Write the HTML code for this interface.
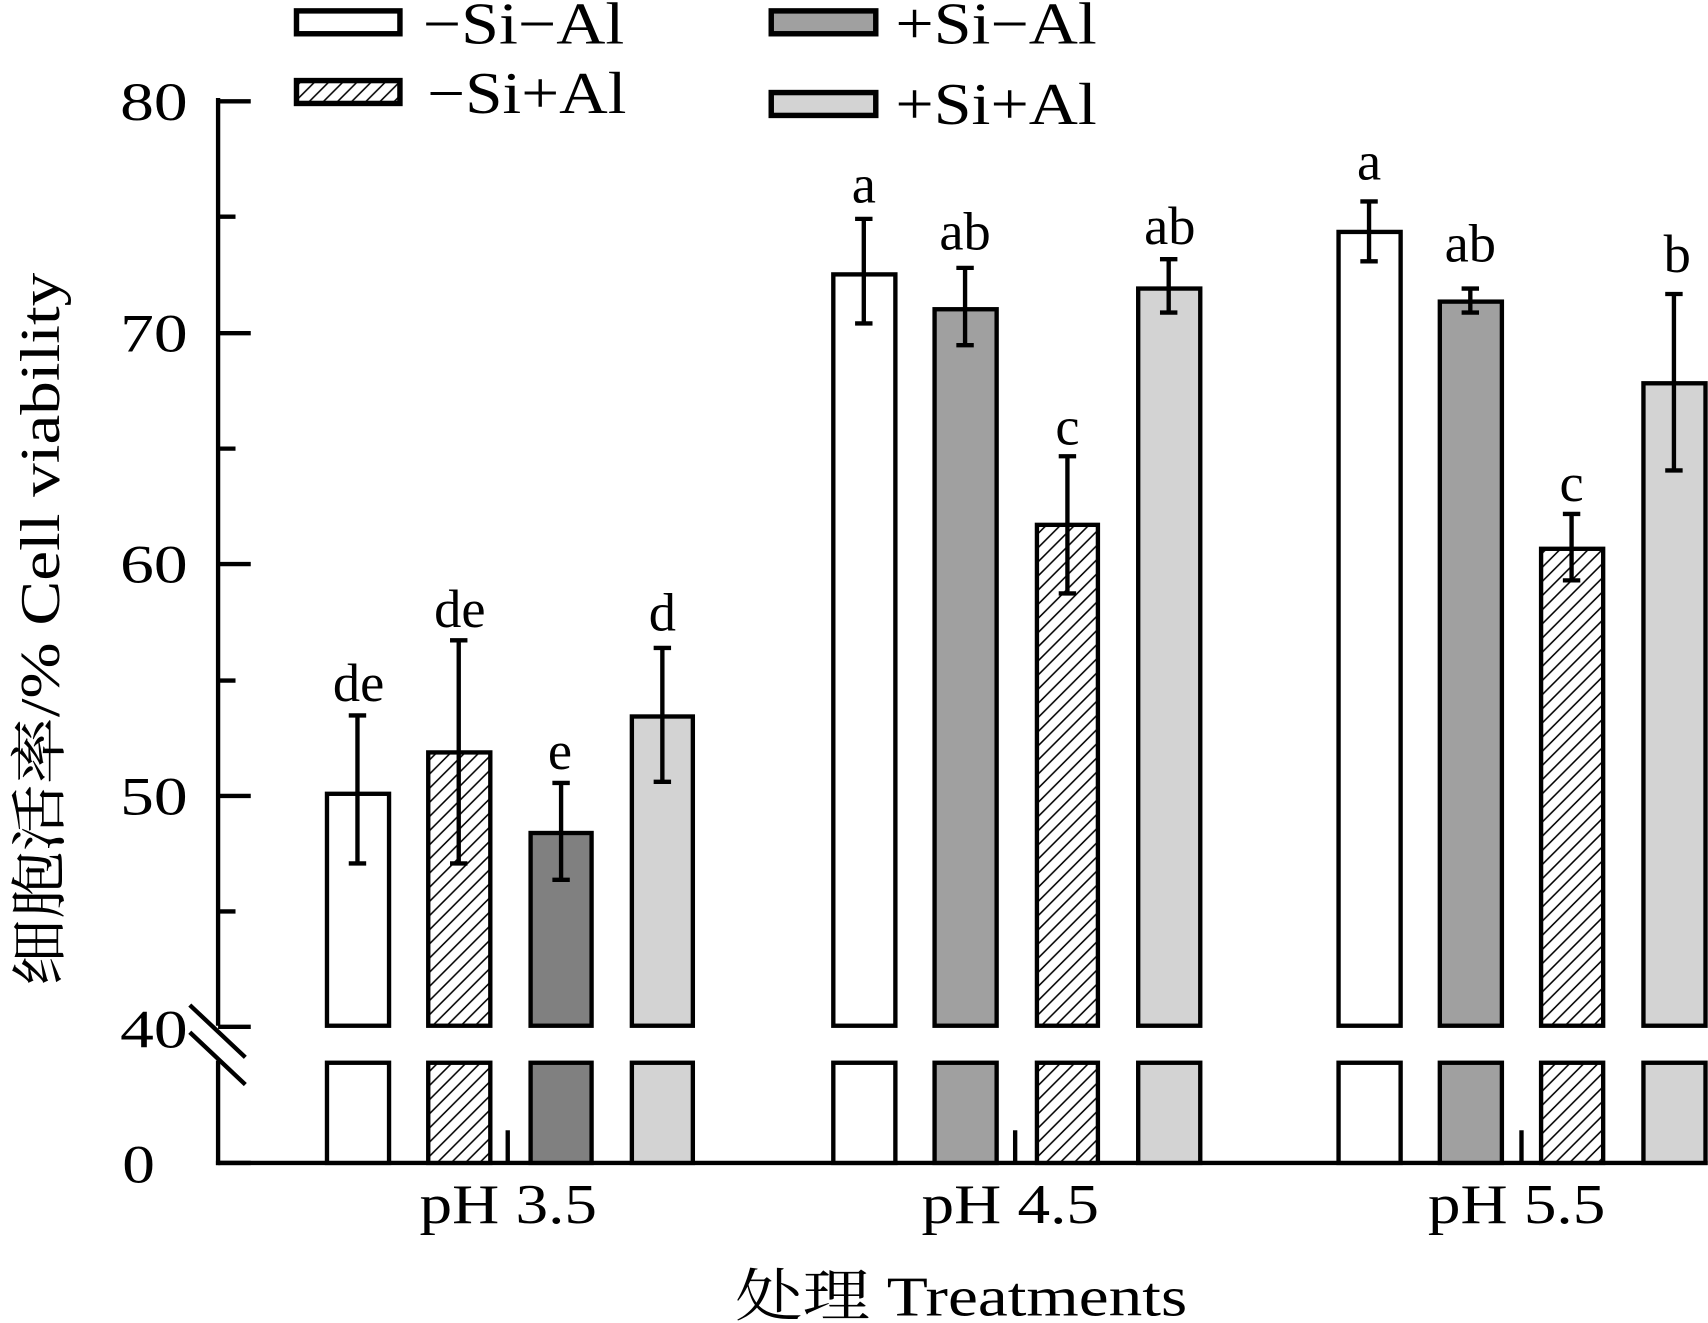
<!DOCTYPE html>
<html><head><meta charset="utf-8"><style>html,body{margin:0;padding:0;background:#fff}svg{display:block}</style></head>
<body>
<svg width="1708" height="1323" viewBox="0 0 1568 1215" xmlns="http://www.w3.org/2000/svg" font-family="'Liberation Serif','Noto Serif CJK SC',serif">
<defs>
<pattern id="h" patternUnits="userSpaceOnUse" width="13" height="13">
<rect width="13" height="13" fill="#fff"/>
<path d="M-2,15 L15,-2 M-2,2 L2,-2 M11,15 L15,11" stroke="#000" stroke-width="1.4"/>
</pattern>
</defs>
<g stroke="#000" stroke-width="4" fill="none">
<line x1="200" y1="90" x2="200" y2="942"/>
<line x1="200" y1="974" x2="200" y2="1070"/>
<line x1="198" y1="1068" x2="1568" y2="1068"/>
<line x1="174" y1="923" x2="225" y2="971"/>
<line x1="174" y1="948" x2="225" y2="996"/>
<line x1="200" y1="93" x2="230" y2="93"/>
<line x1="200" y1="306" x2="230" y2="306"/>
<line x1="200" y1="518" x2="230" y2="518"/>
<line x1="200" y1="731" x2="230" y2="731"/>
<line x1="200" y1="943" x2="230" y2="943"/>
<line x1="200" y1="199" x2="216" y2="199"/>
<line x1="200" y1="412" x2="216" y2="412"/>
<line x1="200" y1="625" x2="216" y2="625"/>
<line x1="200" y1="837" x2="216" y2="837"/>
<line x1="200" y1="1068" x2="230" y2="1068"/>
<line x1="466" y1="1038" x2="466" y2="1068"/>
<line x1="932" y1="1038" x2="932" y2="1068"/>
<line x1="1397" y1="1038" x2="1397" y2="1068"/>
</g>
<g font-size="50" text-anchor="end" fill="#000">
<text x="172" y="110" textLength="62" lengthAdjust="spacingAndGlyphs">80</text>
<text x="172" y="323" textLength="62" lengthAdjust="spacingAndGlyphs">70</text>
<text x="172" y="535" textLength="62" lengthAdjust="spacingAndGlyphs">60</text>
<text x="172" y="748" textLength="62" lengthAdjust="spacingAndGlyphs">50</text>
<text x="172" y="962" textLength="62" lengthAdjust="spacingAndGlyphs">40</text>
<text x="142" y="1086" textLength="30" lengthAdjust="spacingAndGlyphs">0</text>
</g>
<g stroke="#000" stroke-width="4">
<rect x="300" y="729" width="57" height="213" fill="#fff"/>
<rect x="393" y="691" width="57" height="251" fill="url(#h)"/>
<rect x="487" y="765" width="56" height="177" fill="#808080"/>
<rect x="580" y="658" width="56" height="284" fill="#d3d3d3"/>
<rect x="765" y="252" width="57" height="690" fill="#fff"/>
<rect x="858" y="284" width="57" height="658" fill="#a0a0a0"/>
<rect x="952" y="482" width="56" height="460" fill="url(#h)"/>
<rect x="1045" y="265" width="57" height="677" fill="#d3d3d3"/>
<rect x="1229" y="213" width="57" height="729" fill="#fff"/>
<rect x="1322" y="277" width="57" height="665" fill="#a0a0a0"/>
<rect x="1415" y="504" width="57" height="438" fill="url(#h)"/>
<rect x="1509" y="352" width="57" height="590" fill="#d3d3d3"/>
<rect x="300" y="976" width="57" height="92" fill="#fff"/>
<rect x="393" y="976" width="57" height="92" fill="url(#h)"/>
<rect x="487" y="976" width="56" height="92" fill="#808080"/>
<rect x="580" y="976" width="56" height="92" fill="#d3d3d3"/>
<rect x="765" y="976" width="57" height="92" fill="#fff"/>
<rect x="858" y="976" width="57" height="92" fill="#a0a0a0"/>
<rect x="952" y="976" width="56" height="92" fill="url(#h)"/>
<rect x="1045" y="976" width="57" height="92" fill="#d3d3d3"/>
<rect x="1229" y="976" width="57" height="92" fill="#fff"/>
<rect x="1322" y="976" width="57" height="92" fill="#a0a0a0"/>
<rect x="1415" y="976" width="57" height="92" fill="url(#h)"/>
<rect x="1509" y="976" width="57" height="92" fill="#d3d3d3"/>
</g>
<g stroke="#000" stroke-width="4" fill="none">
<path d="M328 657V793M320 657H336M320 793H336"/>
<path d="M421 588V793M413 588H429M413 793H429"/>
<path d="M515 719V808M507 719H523M507 808H523"/>
<path d="M608 595V718M600 595H616M600 718H616"/>
<path d="M793 201V297M785 201H801M785 297H801"/>
<path d="M886 246V317M878 246H894M878 317H894"/>
<path d="M980 419V545M972 419H988M972 545H988"/>
<path d="M1073 238V287M1065 238H1081M1065 287H1081"/>
<path d="M1257 185V240M1249 185H1265M1249 240H1265"/>
<path d="M1350 265V287M1342 265H1358M1342 287H1358"/>
<path d="M1443 472V533M1435 472H1451M1435 533H1451"/>
<path d="M1537 270V432M1529 270H1545M1529 432H1545"/>
</g>
<g font-size="50" text-anchor="middle" fill="#000">
<text x="329" y="644">de</text>
<text x="422" y="576">de</text>
<text x="514" y="706">e</text>
<text x="608" y="579">d</text>
<text x="793" y="186">a</text>
<text x="886" y="229">ab</text>
<text x="980" y="408">c</text>
<text x="1074" y="224">ab</text>
<text x="1257" y="165">a</text>
<text x="1350" y="240">ab</text>
<text x="1443" y="460">c</text>
<text x="1540" y="250">b</text>
</g>
<g font-size="52" fill="#000">
<text x="385" y="1123" textLength="163" lengthAdjust="spacingAndGlyphs">pH 3.5</text>
<text x="846" y="1123" textLength="163" lengthAdjust="spacingAndGlyphs">pH 4.5</text>
<text x="1311" y="1123" textLength="163" lengthAdjust="spacingAndGlyphs">pH 5.5</text>
<text x="675" y="1208" textLength="415" lengthAdjust="spacingAndGlyphs">处理 Treatments</text>
</g>
<text transform="translate(54,578) rotate(-90)" font-size="52" text-anchor="middle" textLength="655" lengthAdjust="spacingAndGlyphs">细胞活率/% Cell viability</text>
<g stroke="#000" stroke-width="5">
<rect x="272" y="10" width="95" height="21" fill="#fff"/>
<rect x="272" y="74" width="95" height="21" fill="url(#h)"/>
<rect x="708" y="10" width="96" height="21" fill="#a0a0a0"/>
<rect x="708" y="85" width="96" height="21" fill="#d3d3d3"/>
</g>
<g font-size="54" fill="#000">
<text x="388" y="40" textLength="185" lengthAdjust="spacingAndGlyphs">−Si−Al</text>
<text x="392" y="104" textLength="183" lengthAdjust="spacingAndGlyphs">−Si+Al</text>
<text x="822" y="40" textLength="185" lengthAdjust="spacingAndGlyphs">+Si−Al</text>
<text x="822" y="114" textLength="185" lengthAdjust="spacingAndGlyphs">+Si+Al</text>
</g>
</svg>
</body></html>
